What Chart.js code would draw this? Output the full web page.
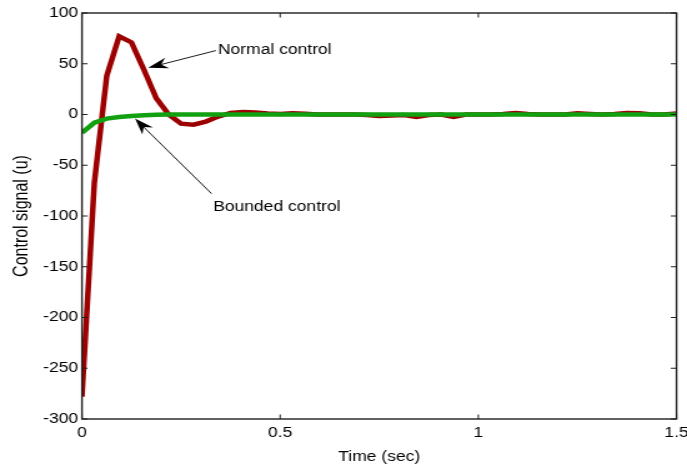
<!DOCTYPE html>
<html>
<head>
<meta charset="utf-8">
<script src="https://cdn.jsdelivr.net/npm/chart.js@4"></script>
<style>
  html, body { margin: 0; padding: 0; background: #fff; }
  canvas { display: block; }
</style>
</head>
<body>
<canvas id="c" width="550" height="466" style="width:687px;height:466px"></canvas>
<script>
// ---- data ----
const timeSec = [0,0.0313,0.0625,0.0938,0.125,0.1563,0.1875,0.2188,0.25,0.2813,0.3125,0.3438,0.375,0.4063,0.4375,0.4688,0.5,0.5313,0.5625,0.5938,0.625,0.6563,0.6875,0.7188,0.75,0.7813,0.8125,0.8438,0.875,0.9063,0.9375,0.9688,1,1.0313,1.0625,1.0938,1.125,1.1563,1.1875,1.2188,1.25,1.2813,1.3125,1.3438,1.375,1.4063,1.4375,1.4688,1.5];
const normalControl = [-278,-67,38,77,71,44,16,0,-9,-10,-7,-2,1.5,2.5,2,1,0.5,1.2,0.8,0,0,0,0,-0.5,-1.5,-1,-0.5,-2.5,-0.5,0,-2.5,0,0,0,0.5,1.5,0.5,0,0,0,1.2,0.5,0,0.5,1.5,1.2,0,0,1];
const boundedControl = [-18,-8,-4,-2.5,-1.5,-0.8,-0.3,0,0,0,0,0,0,0,0,0,0,0,0,0,0,0,0,0,0,0,0,0,0,0,0,0,0,0,0,0,0,0,0,0,0,0,0,0,0,0,0,0,0];
const xTicks = [0, 0.5, 1, 1.5];
const yTicks = [100, 50, 0, -50, -100, -150, -200, -250, -300];
const xTitle = 'Time (sec)';
const yTitle = 'Control signal (u)';
// annotations: [label, textT, textV, tailT, tailV, tipT, tipV]
const annotations = [
  ['Normal control', 0.343, 63, 0.338, 63, 0.167, 46],
  ['Bounded control', 0.331, -91, 0.327, -78, 0.134, -4]
];

const FONT = "'Liberation Sans', Arial, sans-serif";
Chart.defaults.font.family = FONT;
Chart.defaults.color = '#000';

function pts(ys) { return timeSec.map((t, i) => ({ x: t, y: ys[i] })); }

function drawArrow(ctx, x1, y1, x2, y2) {
  const ang = Math.atan2(y2 - y1, x2 - x1);
  const L = 16, W = 5.5, N = 11;
  const ca = Math.cos(ang), sa = Math.sin(ang);
  const bx = x2 - N * ca, by = y2 - N * sa;
  ctx.beginPath();
  ctx.moveTo(x1, y1);
  ctx.lineTo(bx, by);
  ctx.strokeStyle = '#000';
  ctx.lineWidth = 0.9;
  ctx.stroke();
  ctx.beginPath();
  ctx.moveTo(x2, y2);
  ctx.lineTo(x2 - L * ca - W * sa, y2 - L * sa + W * ca);
  ctx.lineTo(bx, by);
  ctx.lineTo(x2 - L * ca + W * sa, y2 - L * sa - W * ca);
  ctx.closePath();
  ctx.fillStyle = '#000';
  ctx.fill();
}

const framePlugin = {
  id: 'frame',
  afterDatasetsDraw(chart) {
    const { ctx, chartArea: a, scales: { x, y } } = chart;
    ctx.save();
    ctx.strokeStyle = '#1e1e1e';
    ctx.lineWidth = 1.4;
    ctx.strokeRect(a.left, a.top, a.right - a.left, a.bottom - a.top);
    ctx.lineWidth = 1;
    const tl = 4.5;
    ctx.beginPath();
    x.ticks.forEach(t => {
      const px = x.getPixelForValue(t.value);
      ctx.moveTo(px, a.bottom); ctx.lineTo(px, a.bottom - tl);
      ctx.moveTo(px, a.top); ctx.lineTo(px, a.top + tl);
    });
    y.ticks.forEach(t => {
      const py = y.getPixelForValue(t.value);
      ctx.moveTo(a.left, py); ctx.lineTo(a.left + tl, py);
      ctx.moveTo(a.right, py); ctx.lineTo(a.right - tl, py);
    });
    ctx.stroke();
    // annotations
    ctx.font = '14px ' + FONT;
    ctx.fillStyle = '#000';
    ctx.textAlign = 'left';
    ctx.textBaseline = 'middle';
    annotations.forEach(([label, tt, tv, at, av, pt, pv]) => {
      ctx.fillText(label, x.getPixelForValue(tt), y.getPixelForValue(tv));
      drawArrow(ctx, x.getPixelForValue(at), y.getPixelForValue(av),
                     x.getPixelForValue(pt), y.getPixelForValue(pv));
    });
    ctx.restore();
  }
};

new Chart(document.getElementById('c'), {
  type: 'line',
  data: {
    datasets: [
      { label: 'Bounded control', data: pts(boundedControl), borderColor: '#10a010', borderWidth: 4.5, pointRadius: 0, tension: 0, fill: false },
      { label: 'Normal control', data: pts(normalControl), borderColor: '#9c0000', borderWidth: 4.5, pointRadius: 0, tension: 0, fill: false }
    ]
  },
  options: {
    responsive: false,
    devicePixelRatio: 1,
    animation: false,
    events: [],
    layout: { padding: { left: 0, right: 8.4, top: 13, bottom: 0 } },
    plugins: { legend: { display: false }, tooltip: { enabled: false } },
    scales: {
      x: {
        type: 'linear', min: 0, max: 1.5,
        afterBuildTicks: s => { s.ticks = xTicks.map(v => ({ value: v })); },
        ticks: { font: { size: 14 }, padding: 6, maxRotation: 0, autoSkip: false, callback: v => String(v) },
        grid: { display: false, drawTicks: false },
        border: { display: false },
        title: { display: true, text: xTitle, font: { size: 14 }, padding: { top: 5.5, bottom: 0 } },
        afterFit: s => { s.height = 47; s.paddingLeft = 0; s.paddingRight = 0; }
      },
      y: {
        type: 'linear', min: -300, max: 100,
        afterBuildTicks: s => { s.ticks = yTicks.map(v => ({ value: v })); },
        ticks: { font: { size: 14 }, padding: 3, autoSkip: false, callback: v => String(v) },
        grid: { display: false, drawTicks: false },
        border: { display: false },
        title: { display: true, text: yTitle, font: { size: 16 }, padding: { top: 7.5, bottom: 0 } },
        afterFit: s => { s.width = 65.6; s.paddingTop = 0; s.paddingBottom = 0; }
      }
    }
  },
  plugins: [framePlugin]
});
</script>
</body>
</html>
